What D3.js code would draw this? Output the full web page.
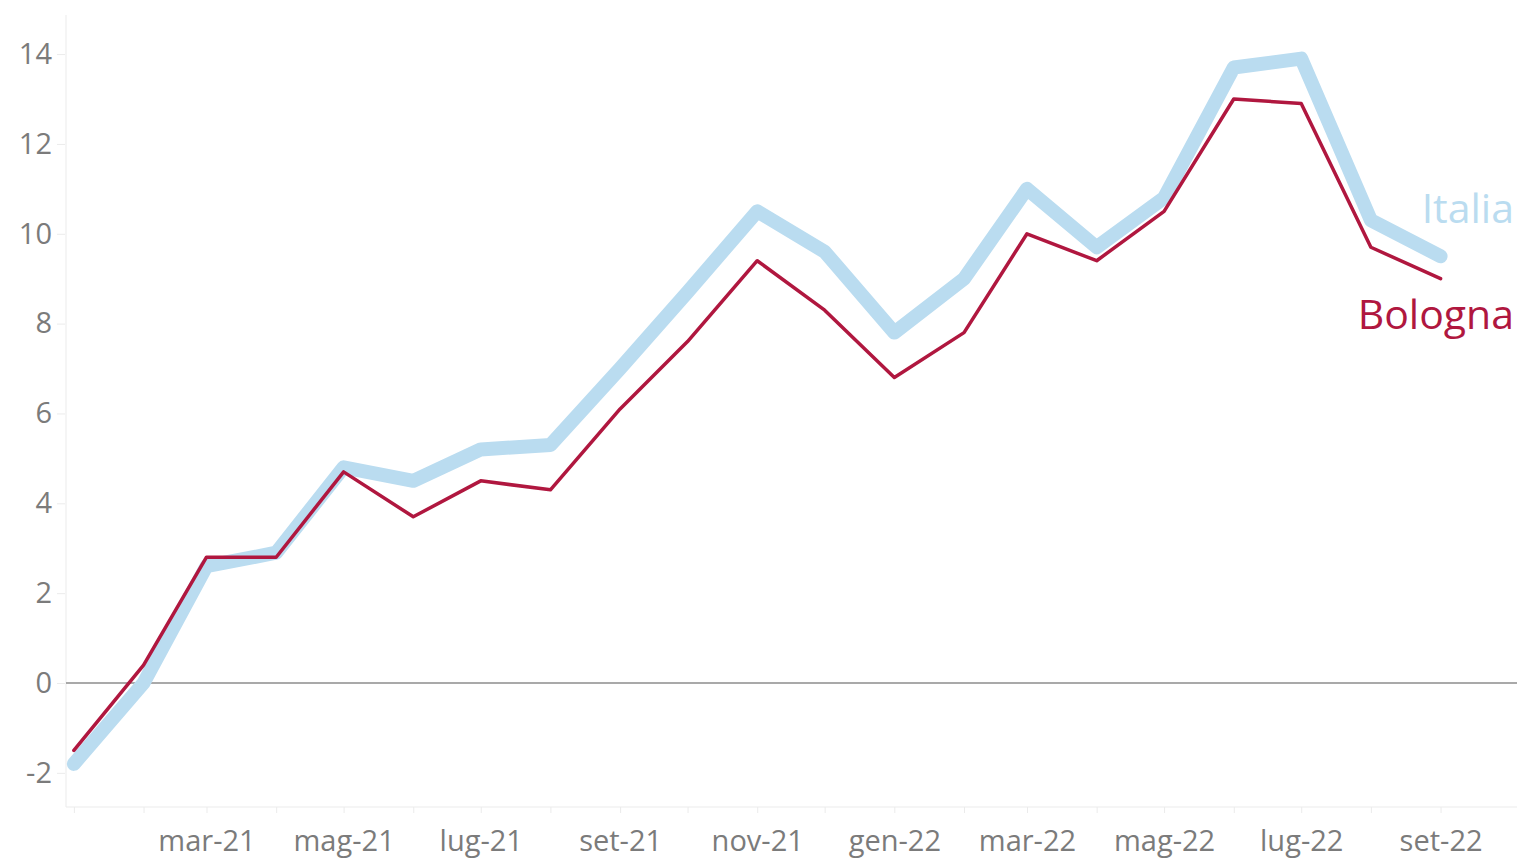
<!DOCTYPE html>
<html>
<head>
<meta charset="utf-8">
<script src="https://cdn.jsdelivr.net/npm/d3@7"></script>
<style>
  html, body { margin: 0; padding: 0; background: #fff; }
  svg { display: block; font-family: "Open Sans", "Noto Sans", sans-serif; }
</style>
</head>
<body>
<svg id="chart" width="1517" height="858"></svg>
<script>
// Months (first of month), Jan 2021 - Sep 2022
const months = [
  '2021-01', '2021-02', '2021-03', '2021-04', '2021-05', '2021-06', '2021-07',
  '2021-08', '2021-09', '2021-10', '2021-11', '2021-12', '2022-01', '2022-02',
  '2022-03', '2022-04', '2022-05', '2022-06', '2022-07', '2022-08', '2022-09'
];
const italia = [
  -1.8, 0.0, 2.6, 2.9, 4.8, 4.5, 5.2, 5.3, 7.0, 8.7, 10.5, 9.6, 7.8, 9.0,
  11.0, 9.7, 10.8, 13.7, 13.9, 10.3, 9.5
];
const bologna = [
  -1.5, 0.4, 2.8, 2.8, 4.7, 3.7, 4.5, 4.3, 6.1, 7.6, 9.4, 8.3, 6.8, 7.8,
  10.0, 9.4, 10.5, 13.0, 12.9, 9.7, 9.0
];
const yTicks = [-2, 0, 2, 4, 6, 8, 10, 12, 14];
const monthNames = ['gen', 'feb', 'mar', 'apr', 'mag', 'giu', 'lug', 'ago', 'set', 'ott', 'nov', 'dic'];

const parse = d3.timeParse('%Y-%m');
const dates = months.map(parse);

const svg = d3.select('#chart');
const FONT = '"Open Sans", "Noto Sans", sans-serif';
const textMuted = '#7b7b7b';
const gridColor = '#ebebeb';

const PLOT = { left: 66, right: 1517, top: 15, bottom: 807 };

const x = d3.scaleTime()
  .domain([new Date(2020, 11, 28, 12), new Date(2022, 9, 5)])
  .range([PLOT.left, PLOT.right]);

const y = d3.scaleLinear()
  .domain([-2.76, 14.87])
  .range([PLOT.bottom, PLOT.top]);

// Left axis line
svg.append('line')
  .attr('x1', PLOT.left).attr('x2', PLOT.left)
  .attr('y1', PLOT.top).attr('y2', PLOT.bottom)
  .attr('stroke', gridColor).attr('stroke-width', 1);

// Bottom axis line
svg.append('line')
  .attr('x1', PLOT.left).attr('x2', PLOT.right)
  .attr('y1', PLOT.bottom).attr('y2', PLOT.bottom)
  .attr('stroke', gridColor).attr('stroke-width', 1);

// Y axis
const yAxis = d3.axisLeft(y)
  .tickValues(yTicks)
  .tickSize(8)
  .tickPadding(5)
  .tickFormat(d => String(d));

const gy = svg.append('g')
  .attr('transform', `translate(${PLOT.left - 1},0)`)
  .call(yAxis)
  .attr('font-family', FONT);
gy.select('.domain').remove();
gy.selectAll('.tick line').attr('stroke', gridColor);
gy.selectAll('.tick text')
  .attr('fill', textMuted)
  .style('font-size', '29px');

// X axis: small tick at every month, label every two months from March
const xAxis = d3.axisBottom(x)
  .tickValues(dates)
  .tickSize(6)
  .tickPadding(17)
  .tickFormat((d, i) => (i % 2 === 0 && i > 0)
    ? `${monthNames[d.getMonth()]}-${String(d.getFullYear()).slice(2)}`
    : '');

const gx = svg.append('g')
  .attr('transform', `translate(0,${PLOT.bottom})`)
  .call(xAxis)
  .attr('font-family', FONT);
gx.select('.domain').remove();
gx.selectAll('.tick line').attr('stroke', gridColor);
gx.selectAll('.tick text')
  .attr('fill', textMuted)
  .style('font-size', '29px');

// Zero line
svg.append('line')
  .attr('x1', PLOT.left).attr('x2', PLOT.right)
  .attr('y1', y(0)).attr('y2', y(0))
  .attr('stroke', '#8c8c8c').attr('stroke-width', 1.5);

const line = d3.line()
  .x((d, i) => x(dates[i]))
  .y(d => y(d));

// Italia (thick light blue)
svg.append('path')
  .datum(italia)
  .attr('d', line)
  .attr('fill', 'none')
  .attr('stroke', '#badcf0')
  .attr('stroke-width', 14)
  .attr('stroke-linejoin', 'round')
  .attr('stroke-linecap', 'round');

// Bologna (thin crimson)
svg.append('path')
  .datum(bologna)
  .attr('d', line)
  .attr('fill', 'none')
  .attr('stroke', '#b0173f')
  .attr('stroke-width', 3.5)
  .attr('stroke-linejoin', 'round')
  .attr('stroke-linecap', 'round');

// Series labels
svg.append('text')
  .attr('x', 1514)
  .attr('y', y(italia[italia.length - 1]) - 33)
  .attr('text-anchor', 'end')
  .attr('fill', '#badcf0')
  .style('font-size', '41px')
  .text('Italia');

svg.append('text')
  .attr('x', 1514)
  .attr('y', y(bologna[bologna.length - 1]) + 50)
  .attr('text-anchor', 'end')
  .attr('fill', '#b0173f')
  .style('font-size', '41px')
  .text('Bologna');
</script>
</body>
</html>
